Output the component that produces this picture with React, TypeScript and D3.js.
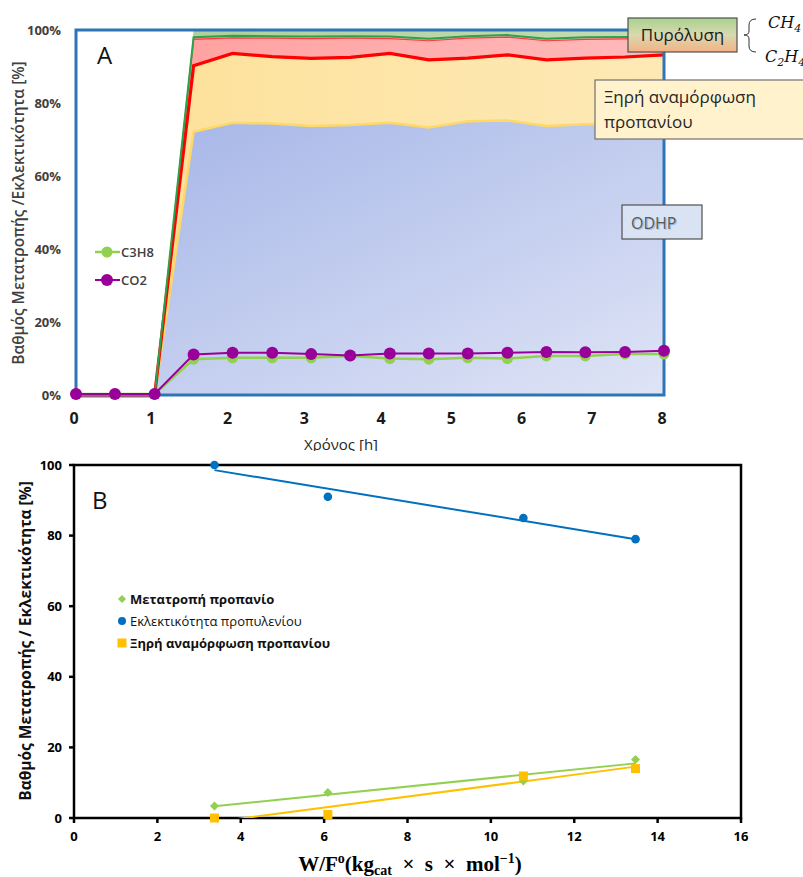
import React from 'react';
import * as d3 from 'd3';

// ---------- Chart A data ----------
const timeH = [0, 0.53, 1.07, 1.6, 2.13, 2.67, 3.2, 3.73, 4.27, 4.8, 5.33, 5.87, 6.4, 6.93, 7.47, 8];
const odhpTop = [0, 0, 0, 72.1, 74.6, 74.4, 73.7, 74.0, 74.6, 73.3, 75.0, 75.2, 73.7, 74.2, 74.2, 74.0];
const dryRefTop = [0, 0, 0, 90.2, 93.6, 92.7, 92.2, 92.5, 93.6, 91.8, 92.3, 93.2, 91.8, 92.3, 92.6, 93.2];
const c2h4Top = [0, 0, 0, 98.0, 98.4, 98.3, 98.2, 98.3, 98.2, 97.6, 98.3, 98.6, 97.6, 98.0, 98.1, 98.2];
const ch4Top = [0, 0, 0, 100, 100, 100, 100, 100, 100, 100, 100, 100, 100, 100, 100, 100];
const c3h8Conv = [0.3, 0.3, 0.3, 9.8, 10.2, 10.2, 10.2, 10.7, 10.0, 9.8, 10.2, 10.0, 10.7, 10.7, 11.2, 11.2];
const co2Conv = [0.3, 0.3, 0.3, 11.1, 11.6, 11.6, 11.2, 10.8, 11.4, 11.4, 11.4, 11.6, 11.8, 11.7, 11.8, 12.1];
const timeTicks = [0, 1, 2, 3, 4, 5, 6, 7, 8];
const pctTicks = [0, 20, 40, 60, 80, 100];

// ---------- Chart B data ----------
const wf = [3.37, 6.09, 10.78, 13.47];
const propConv = [3.4, 7.2, 10.5, 16.6];
const propSel = [100, 91, 85, 79];
const dryRef = [0, 1.0, 11.9, 14.0];
const wfTicks = [0, 2, 4, 6, 8, 10, 12, 14, 16];
const bTicks = [0, 20, 40, 60, 80, 100];

function linFit(xs: number[], ys: number[]) {
  const mx = d3.mean(xs) as number;
  const my = d3.mean(ys) as number;
  let sxy = 0, sxx = 0;
  xs.forEach((x, i) => { sxy += (x - mx) * (ys[i] - my); sxx += (x - mx) * (x - mx); });
  const m = sxy / sxx;
  const b = my - m * mx;
  const x0 = d3.min(xs) as number, x1 = d3.max(xs) as number;
  return [[x0, m * x0 + b], [x1, m * x1 + b]] as [number, number][];
}

const FONT = "'Open Sans', 'Noto Sans', sans-serif";

export default function App() {
  // Chart A scales
  const xA = d3.scaleLinear().domain([0, 8]).range([76, 664]);
  const xAtick = d3.scaleLinear().domain([0, 4, 8]).range([74, 381, 662]);
  const yA = d3.scaleLinear().domain([0, 100]).range([395, 30]);
  const idx = timeH.map((_, i) => i);

  const band = (lo: number[], hi: number[]) =>
    d3.area<number>().x(i => xA(timeH[i])).y0(i => yA(lo[i])).y1(i => yA(hi[i]))(idx) as string;
  const zeros = timeH.map(() => 0);
  const lineOf = (vals: number[]) =>
    d3.line<number>().x(i => xA(timeH[i])).y(i => yA(vals[i]))(idx) as string;

  // Chart B scales
  const xB = d3.scaleLinear().domain([0, 16]).range([74, 741]);
  const yB = d3.scaleLinear().domain([0, 100]).range([818, 465]);
  const lineB = d3.line<[number, number]>().x(d => xB(d[0])).y(d => yB(d[1]));
  const fitSel = linFit(wf, propSel);
  const fitConv = linFit(wf, propConv);
  const fitDry = linFit(wf, dryRef);

  const dia = (cx: number, cy: number, s: number) =>
    `M${cx},${cy - s} L${cx + s},${cy} L${cx},${cy + s} L${cx - s},${cy} Z`;

  return (
    <svg width={803} height={877} style={{ position: 'absolute', left: 0, top: 0, background: '#fff' }}
      fontFamily={FONT}>
      <defs>
        <linearGradient id="blueG" x1="0" y1="0" x2="1" y2="1">
          <stop offset="0" stopColor="#a2b3e6" />
          <stop offset="1" stopColor="#dfe4f6" />
        </linearGradient>
        <linearGradient id="yelG" x1="0" y1="0" x2="1" y2="0">
          <stop offset="0" stopColor="#fde097" />
          <stop offset="1" stopColor="#fee9b6" />
        </linearGradient>
        <linearGradient id="redG" x1="0" y1="0" x2="1" y2="0">
          <stop offset="0" stopColor="#ff9c9c" />
          <stop offset="1" stopColor="#ffbaba" />
        </linearGradient>
        <linearGradient id="grnG" x1="0" y1="0" x2="1" y2="0">
          <stop offset="0" stopColor="#a9cd98" />
          <stop offset="1" stopColor="#c5dcb5" />
        </linearGradient>
        <linearGradient id="pyroG" x1="0" y1="0" x2="0" y2="1">
          <stop offset="0" stopColor="#a9d18e" />
          <stop offset="0.5" stopColor="#d9d9b0" />
          <stop offset="1" stopColor="#f4b183" />
        </linearGradient>
        <clipPath id="clipTitleA">
          <rect x={0} y={0} width={803} height={451} />
        </clipPath>
        <clipPath id="clipB">
          <rect x={xB(0)} y={yB(100)} width={xB(16) - xB(0)} height={yB(0) - yB(100)} />
        </clipPath>
      </defs>

      {/* ================= Chart A ================= */}
      <path d={band(zeros, odhpTop)} fill="url(#blueG)" />
      <path d={band(odhpTop, dryRefTop)} fill="url(#yelG)" />
      <path d={band(dryRefTop, c2h4Top)} fill="url(#redG)" />
      <path d={band(c2h4Top, ch4Top)} fill="url(#grnG)" />
      <path d={lineOf(odhpTop)} fill="none" stroke="#ffd966" strokeWidth={2.5} />
      <path d={lineOf(c2h4Top)} fill="none" stroke="#ff3b3b" strokeWidth={1.2} transform="translate(0,2)" />
      <path d={lineOf(dryRefTop)} fill="none" stroke="#ff0000" strokeWidth={3.2} />
      <path d={lineOf(c2h4Top)} fill="none" stroke="#2ca24a" strokeWidth={2} />

      {/* frame */}
      <rect x={xA(0)} y={yA(100)} width={xA(8) - xA(0)} height={yA(0) - yA(100)}
        fill="none" stroke="#2e75b6" strokeWidth={3} />

      {/* conversion lines */}
      <path d={lineOf(c3h8Conv)} fill="none" stroke="#92d050" strokeWidth={2.5} />
      {idx.map(i => (
        <circle key={'g' + i} cx={xA(timeH[i])} cy={yA(c3h8Conv[i])} r={5.5} fill="#92d050" />
      ))}
      <path d={lineOf(co2Conv)} fill="none" stroke="#990099" strokeWidth={2} />
      {idx.map(i => (
        <circle key={'p' + i} cx={xA(timeH[i])} cy={yA(co2Conv[i])} r={6} fill="#990099" />
      ))}

      {/* y ticks A */}
      {pctTicks.map(t => (
        <text key={'ya' + t} x={61} y={yA(t)} dy="0.35em" textAnchor="end" fontSize={13}
          fontWeight={700} fill="#404040">{t + '%'}</text>
      ))}
      {/* x ticks A */}
      {timeTicks.map(t => (
        <text key={'xa' + t} x={xAtick(t)} y={418} dy="0.35em" textAnchor="middle" fontSize={16}
          fontWeight={700} fill="#1a1a1a">{t}</text>
      ))}
      <text x={341} y={450} textAnchor="middle" fontSize={15} fill="#262626" clipPath="url(#clipTitleA)">Χρόνος [h]</text>
      <text transform="translate(24,213) rotate(-90)" textAnchor="middle" fontSize={15.5} fontWeight={600}
        fill="#404040">Βαθμός Μετατροπής /Εκλεκτικότητα [%]</text>
      <text x={97} y={64} fontSize={24} fill="#111">A</text>

      {/* legend A */}
      <line x1={95} x2={120} y1={252} y2={252} stroke="#92d050" strokeWidth={2.5} />
      <circle cx={107} cy={252} r={5.5} fill="#92d050" />
      <text x={121} y={252} dy="0.35em" fontSize={13} fontWeight={600} fill="#404040">C3H8</text>
      <line x1={95} x2={120} y1={280} y2={280} stroke="#990099" strokeWidth={2} />
      <circle cx={107} cy={280} r={6} fill="#990099" />
      <text x={121} y={280} dy="0.35em" fontSize={13} fontWeight={600} fill="#404040">CO2</text>

      {/* annotation boxes */}
      <rect x={628} y={18} width={109} height={34} fill="url(#pyroG)" stroke="#505050" strokeWidth={1.2} />
      <text x={682.5} y={35} dy="0.35em" textAnchor="middle" fontSize={17} fill="#1a1a1a">Πυρόλυση</text>
      <path d="M756,19 Q749,19 749,25 L749,31 Q749,35 744,35 Q749,35 749,39 L749,46 Q749,52 756,52"
        fill="none" stroke="#333" strokeWidth={1} />
      <text x={768} y={28} fontSize={16} fontStyle="italic" fontFamily="'DejaVu Serif', serif" fill="#111">
        CH<tspan dy={4} fontSize={11}>4</tspan>
      </text>
      <text x={765} y={62} fontSize={16} fontStyle="italic" fontFamily="'DejaVu Serif', serif" fill="#111">
        C<tspan dy={4} fontSize={11}>2</tspan><tspan dy={-4}>H</tspan><tspan dy={4} fontSize={11}>4</tspan>
      </text>

      <rect x={595} y={80} width={220} height={59} fill="#fff2cc" stroke="#707070" strokeWidth={1.2} />
      <text x={604} y={103} fontSize={17} fill="#262626">Ξηρή αναμόρφωση</text>
      <text x={604} y={128} fontSize={17} fill="#262626">προπανίου</text>

      <rect x={622} y={205} width={80} height={34} fill="#dae3f3" stroke="#505050" strokeWidth={1.2} />
      <text x={631} y={223} dy="0.35em" fontSize={16} fill="#9dc3e6" transform="translate(1.2,1.2)">ODHP</text>
      <text x={631} y={223} dy="0.35em" fontSize={16} fill="#595959">ODHP</text>

      {/* ================= Chart B ================= */}
      <rect x={xB(0)} y={yB(100)} width={xB(16) - xB(0)} height={yB(0) - yB(100)}
        fill="none" stroke="#000" strokeWidth={2.5} />
      {bTicks.map(t => (
        <g key={'yb' + t}>
          <line x1={xB(0) - 5} x2={xB(0)} y1={yB(t)} y2={yB(t)} stroke="#000" strokeWidth={2.5} />
          <text x={62} y={yB(t)} dy="0.35em" textAnchor="end" fontSize={13} fontWeight={700} fill="#000">{t}</text>
        </g>
      ))}
      {wfTicks.map(t => (
        <g key={'xb' + t}>
          <line x1={xB(t)} x2={xB(t)} y1={yB(0)} y2={yB(0) + 5} stroke="#000" strokeWidth={2.5} />
          <text x={xB(t)} y={836} dy="0.35em" textAnchor="middle" fontSize={13} fontWeight={700} fill="#000">{t}</text>
        </g>
      ))}

      <g clipPath="url(#clipB)">
        <path d={lineB(fitSel) as string} fill="none" stroke="#0070c0" strokeWidth={2} />
        <path d={lineB(fitConv) as string} fill="none" stroke="#92d050" strokeWidth={2} />
        <path d={lineB(fitDry) as string} fill="none" stroke="#ffc000" strokeWidth={2} />
      </g>
      {wf.map((x, i) => (
        <circle key={'bs' + i} cx={xB(x)} cy={yB(propSel[i])} r={4.3} fill="#0070c0" />
      ))}
      {wf.map((x, i) => (
        <path key={'bc' + i} d={dia(xB(x), yB(propConv[i]), 4.5)} fill="#92d050" />
      ))}
      {wf.map((x, i) => (
        <rect key={'bd' + i} x={xB(x) - 4.5} y={yB(dryRef[i]) - 4.5} width={9} height={9} fill="#ffc000" />
      ))}

      <text x={92} y={509} fontSize={24} fill="#111">B</text>

      {/* legend B */}
      <path d={dia(122, 599, 4)} fill="#92d050" />
      <text x={130} y={599} dy="0.35em" fontSize={13} fontWeight={700} fill="#111">Μετατροπή προπανίο</text>
      <circle cx={122} cy={621} r={4} fill="#0070c0" />
      <text x={130} y={621} dy="0.35em" fontSize={13} fill="#111">Εκλεκτικότητα προπυλενίου</text>
      <rect x={117.5} y={638.5} width={9} height={9} fill="#ffc000" />
      <text x={130} y={643} dy="0.35em" fontSize={13} fontWeight={700} fill="#111">Ξηρή αναμόρφωση προπανίου</text>

      <text transform="translate(31,641) rotate(-90)" textAnchor="middle" fontSize={15.5} fontWeight={700}
        fill="#111">Βαθμός Μετατροπής / Εκλεκτικότητα [%]</text>

      <text x={410} y={871} textAnchor="middle" fontSize={21} fontWeight={700}
        fontFamily="'Liberation Serif', 'DejaVu Serif', serif" fill="#000">
        W/F<tspan dy={-8} fontSize={14}>o</tspan><tspan dy={8}>(kg</tspan><tspan dy={4} fontSize={14}>cat</tspan><tspan dy={-4}>{'\u2002×\u2002s\u2002×\u2002mol'}</tspan><tspan dy={-8} fontSize={14}>−1</tspan><tspan dy={8}>)</tspan>
      </text>
    </svg>
  );
}
